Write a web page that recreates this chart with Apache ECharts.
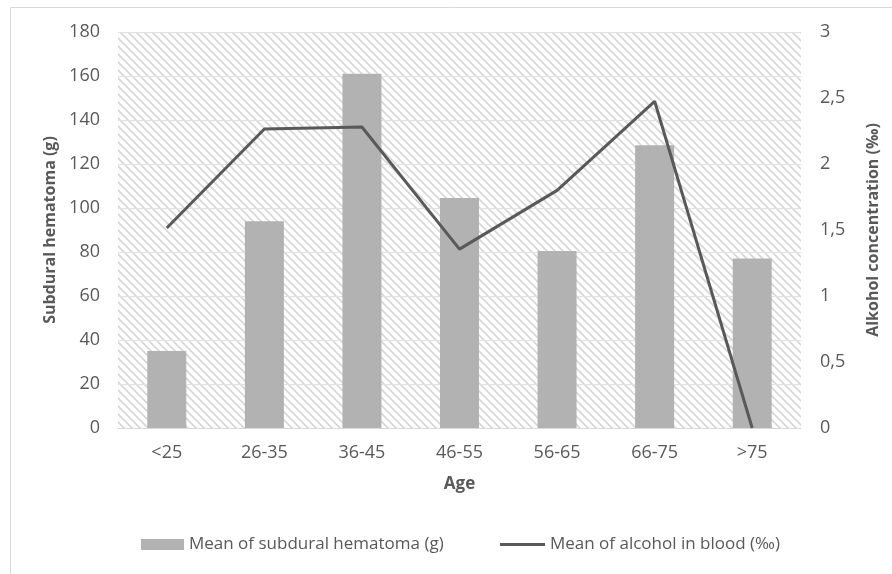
<!DOCTYPE html>
<html><head><meta charset="utf-8">
<script src="https://cdn.jsdelivr.net/npm/echarts@6/dist/echarts.min.js"></script>
<style>html,body{margin:0;padding:0;background:#fff}#c{width:892px;height:574px}</style>
</head><body><div id="c"></div>
<script>
const categories = ['<25','26-35','36-45','46-55','56-65','66-75','>75'];
const hematoma = [35, 94, 161, 104.5, 80.5, 128.5, 77];
const alcohol = [1.515, 2.265, 2.28, 1.355, 1.8, 2.475, 0];
const leftTicks = [0, 180, 20];
const rightTicks = [0, 3, 0.5];

const tile = document.createElement('canvas');
tile.width = 8; tile.height = 8;
const g = tile.getContext('2d');
g.fillStyle = '#ffffff'; g.fillRect(0,0,8,8);
g.strokeStyle = '#d6d6d6'; g.lineWidth = 1.6;
g.beginPath();
g.moveTo(-1,-1); g.lineTo(9,9);
g.moveTo(-5,3); g.lineTo(5,13);
g.moveTo(3,-5); g.lineTo(13,5);
g.stroke();

const font = 'Open Sans';
const txt = '#595959';
const chart = echarts.init(document.getElementById('c'));
chart.setOption({
  animation: false,
  textStyle: {fontFamily: font},
  graphic: [{type:'rect', shape:{x:10.5,y:7.5,width:900,height:600}, style:{fill:'none', stroke:'#d9d9d9', lineWidth:1}, silent:true}],
  grid: {left:118, right:91, top:32, bottom:146, show:true, borderWidth:0, backgroundColor:{image: tile, repeat:'repeat'}},
  legend: [{
    top: 531, left: 136, itemWidth: 43, itemHeight: 11, itemGap: 6,
    textStyle: {fontFamily: font, fontSize: 17, color: txt},
    data: [{name:'Mean of subdural hematoma (g)', icon:'rect'}]
  },{
    top: 531, left: 495, itemWidth: 45, itemHeight: 3, itemGap: 6,
    textStyle: {fontFamily: font, fontSize: 17, color: txt},
    data: [{name:'Mean of alcohol in blood (‰)', icon:'rect'}]
  }],
  xAxis: {
    type:'category', data: categories,
    name:'Age', nameLocation:'middle', nameGap: 48,
    nameTextStyle:{fontFamily:font, fontSize:17, fontWeight:'bold', color:txt},
    axisLine:{show:true, lineStyle:{color:'#d9d9d9', width:1}},
    axisTick:{show:false},
    axisLabel:{fontFamily:font, fontSize:18, color:txt, margin:16}
  },
  yAxis: [{
    type:'value', min:leftTicks[0], max:leftTicks[1], interval:leftTicks[2],
    name:'Subdural hematoma (g)', nameLocation:'middle', nameGap: 58, nameRotate: 90,
    nameTextStyle:{fontFamily:font, fontSize:16, fontWeight:'bold', color:txt},
    axisLine:{show:false}, axisTick:{show:false},
    axisLabel:{fontFamily:font, fontSize:18, color:txt, margin:18},
    splitLine:{show:true, lineStyle:{color:'#e2e2e2', width:1}}
  },{
    type:'value', min:rightTicks[0], max:rightTicks[1], interval:rightTicks[2],
    name:'Alkohol concentration (‰)', nameLocation:'middle', nameGap: 64, nameRotate: 90,
    nameTextStyle:{fontFamily:font, fontSize:16, fontWeight:'bold', color:txt},
    axisLine:{show:false}, axisTick:{show:false},
    axisLabel:{fontFamily:font, fontSize:18, color:txt, margin:19, formatter: v => String(v).replace('.', ',')},
    splitLine:{show:false}
  }],
  series: [{
    name:'Mean of subdural hematoma (g)', type:'bar', data: hematoma, barWidth: 39,
    itemStyle:{color:'#b2b2b2'}
  },{
    name:'Mean of alcohol in blood (‰)', type:'line', yAxisIndex:1, data: alcohol,
    symbol:'none', lineStyle:{color:'#595959', width:3}, itemStyle:{color:'#595959'}
  }]
});
</script></body></html>
